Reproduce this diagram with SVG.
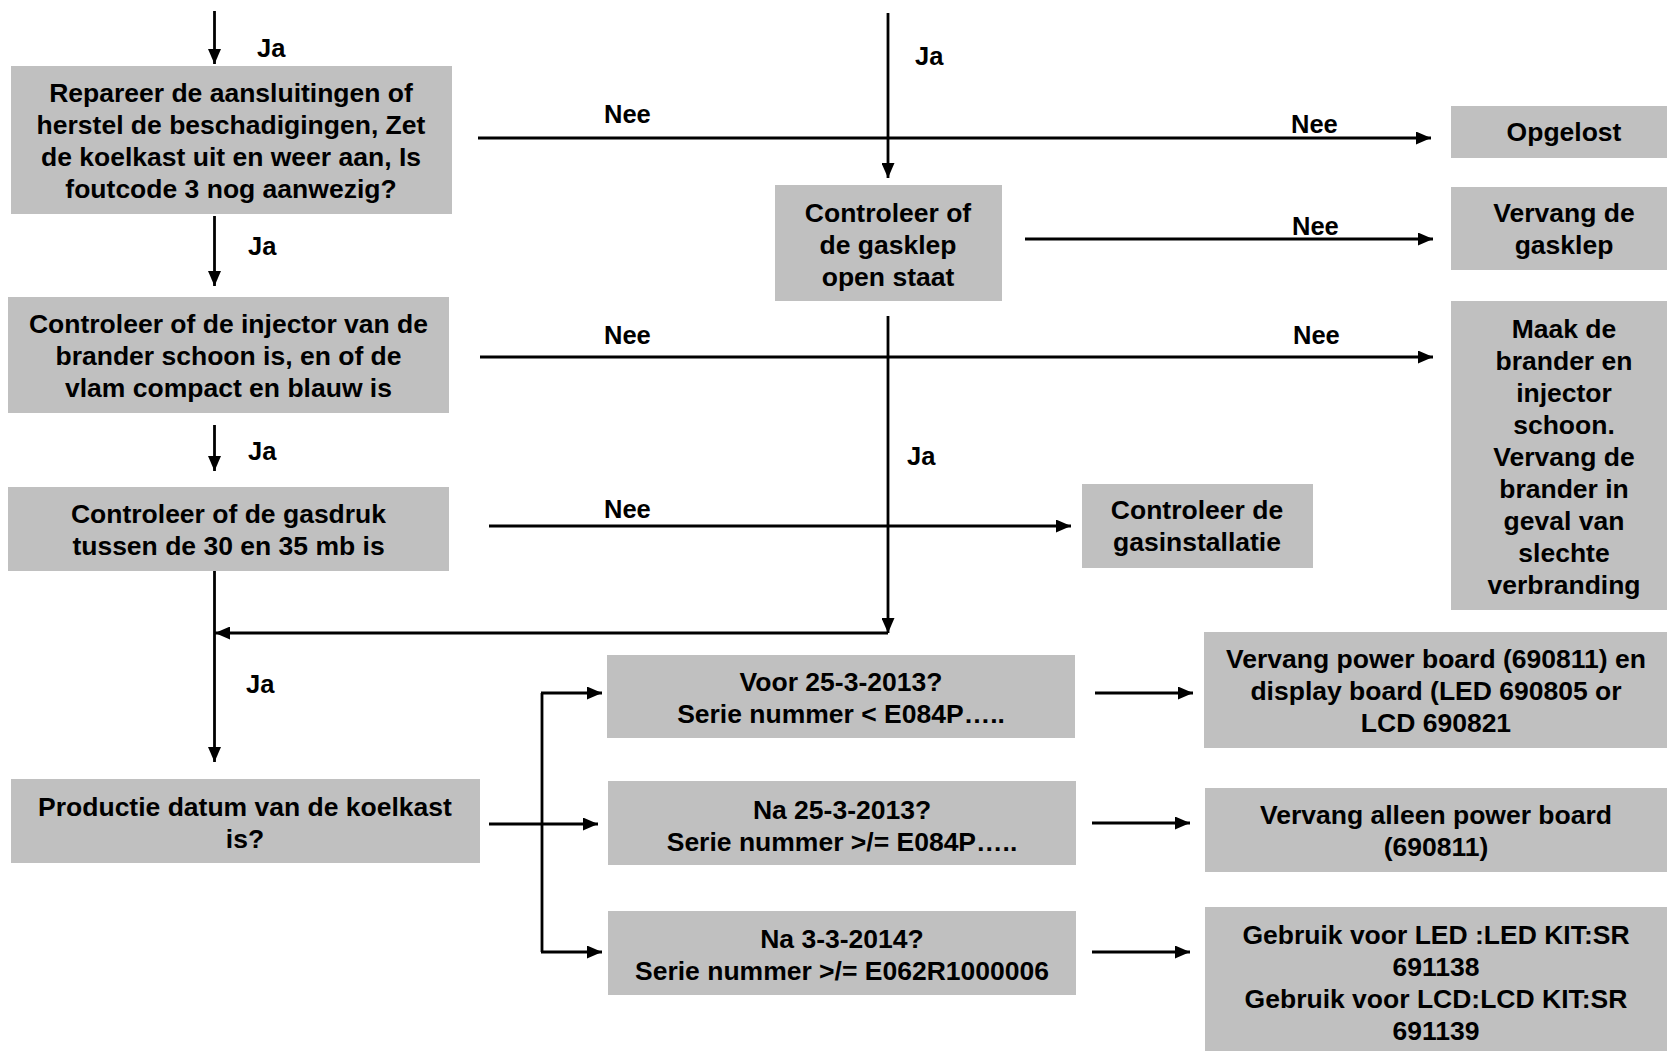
<svg xmlns="http://www.w3.org/2000/svg" width="1667" height="1051" viewBox="0 0 1667 1051">
<style>
  .box { fill: #c0c0c0; }
  .t { font-family: "Liberation Sans", Arial, sans-serif; font-weight: bold; font-size: 26.5px; fill: #000; text-anchor: middle; }
  .lbl { font-family: "Liberation Sans", Arial, sans-serif; font-weight: bold; font-size: 25.5px; fill: #000; }
  .ln { stroke: #000; stroke-width: 2.8; fill: none; }
  .ar { stroke: #000; stroke-width: 2.8; fill: none; marker-end: url(#arr); }
</style>
<defs>
  <marker id="arr" viewBox="0 0 15 13" refX="15" refY="6.5" markerWidth="15" markerHeight="13" markerUnits="userSpaceOnUse" orient="auto">
    <path d="M0,0 L15,6.5 L0,13 z" fill="#000"/>
  </marker>
</defs>
<rect width="1667" height="1051" fill="#fff"/>

<g id="connectors">
  <line class="ar" x1="214.5" y1="11" x2="214.5" y2="64"/>
  <line class="ar" x1="888" y1="13" x2="888" y2="178"/>
  <line class="ar" x1="478" y1="138" x2="1431" y2="138"/>
  <line class="ar" x1="1025" y1="239" x2="1433" y2="239"/>
  <line class="ar" x1="214.5" y1="216" x2="214.5" y2="286"/>
  <line class="ar" x1="480" y1="357" x2="1433" y2="357"/>
  <line class="ar" x1="888" y1="316" x2="888" y2="633"/>
  <line class="ar" x1="214.5" y1="425" x2="214.5" y2="471"/>
  <line class="ar" x1="489" y1="526" x2="1071" y2="526"/>
  <line class="ar" x1="214.5" y1="571" x2="214.5" y2="762"/>
  <line class="ar" x1="888" y1="633" x2="215" y2="633"/>
  <line class="ar" x1="489" y1="824" x2="598" y2="824"/>
  <line class="ln" x1="542" y1="693" x2="542" y2="952"/>
  <line class="ar" x1="541" y1="693" x2="602" y2="693"/>
  <line class="ar" x1="541" y1="952" x2="602" y2="952"/>
  <line class="ar" x1="1095" y1="693" x2="1193" y2="693"/>
  <line class="ar" x1="1092" y1="823" x2="1190" y2="823"/>
  <line class="ar" x1="1092" y1="952" x2="1190" y2="952"/>

  <text class="lbl" x="257" y="57">Ja</text>
  <text class="lbl" x="915" y="65">Ja</text>
  <text class="lbl" x="604" y="123">Nee</text>
  <text class="lbl" x="1291" y="133">Nee</text>
  <text class="lbl" x="1292" y="235">Nee</text>
  <text class="lbl" x="248" y="255">Ja</text>
  <text class="lbl" x="604" y="344">Nee</text>
  <text class="lbl" x="1293" y="344">Nee</text>
  <text class="lbl" x="907" y="465">Ja</text>
  <text class="lbl" x="248" y="460">Ja</text>
  <text class="lbl" x="604" y="518">Nee</text>
  <text class="lbl" x="246" y="693">Ja</text>
</g>

<g id="n-repareer">
  <rect class="box" x="11" y="66" width="441" height="148"/>
  <text class="t" x="231" y="102">Repareer de aansluitingen of</text>
  <text class="t" x="231" y="134">herstel de beschadigingen, Zet</text>
  <text class="t" x="231" y="166">de koelkast uit en weer aan, Is</text>
  <text class="t" x="231" y="198">foutcode 3 nog aanwezig?</text>
</g>

<g id="n-opgelost">
  <rect class="box" x="1451" y="106" width="230" height="52"/>
  <text class="t" x="1564" y="141">Opgelost</text>
</g>

<g id="n-gasklep">
  <rect class="box" x="775" y="185" width="227" height="116"/>
  <text class="t" x="888" y="222">Controleer of</text>
  <text class="t" x="888" y="254">de gasklep</text>
  <text class="t" x="888" y="286">open staat</text>
</g>

<g id="n-vervang-gasklep">
  <rect class="box" x="1451" y="187" width="230" height="83"/>
  <text class="t" x="1564" y="222">Vervang de</text>
  <text class="t" x="1564" y="254">gasklep</text>
</g>

<g id="n-injector">
  <rect class="box" x="8" y="297" width="441" height="116"/>
  <text class="t" x="228.5" y="333">Controleer of de injector van de</text>
  <text class="t" x="228.5" y="365">brander schoon is, en of de</text>
  <text class="t" x="228.5" y="397">vlam compact en blauw is</text>
</g>

<g id="n-maak">
  <rect class="box" x="1451" y="301" width="230" height="309"/>
  <text class="t" x="1564" y="338">Maak de</text>
  <text class="t" x="1564" y="370">brander en</text>
  <text class="t" x="1564" y="402">injector</text>
  <text class="t" x="1564" y="434">schoon.</text>
  <text class="t" x="1564" y="466">Vervang de</text>
  <text class="t" x="1564" y="498">brander in</text>
  <text class="t" x="1564" y="530">geval van</text>
  <text class="t" x="1564" y="562">slechte</text>
  <text class="t" x="1564" y="594">verbranding</text>
</g>

<g id="n-gasdruk">
  <rect class="box" x="8" y="487" width="441" height="84"/>
  <text class="t" x="228.5" y="523">Controleer of de gasdruk</text>
  <text class="t" x="228.5" y="555">tussen de 30 en 35 mb is</text>
</g>

<g id="n-gasinstallatie">
  <rect class="box" x="1082" y="484" width="231" height="84"/>
  <text class="t" x="1197" y="519">Controleer de</text>
  <text class="t" x="1197" y="551">gasinstallatie</text>
</g>

<g id="n-productie">
  <rect class="box" x="11" y="779" width="469" height="84"/>
  <text class="t" x="245" y="816">Productie datum van de koelkast</text>
  <text class="t" x="245" y="848">is?</text>
</g>

<g id="n-voor">
  <rect class="box" x="607" y="655" width="468" height="83"/>
  <text class="t" x="841" y="691">Voor 25-3-2013?</text>
  <text class="t" x="841" y="723">Serie nummer &lt; E084P…..</text>
</g>

<g id="n-na2013">
  <rect class="box" x="608" y="781" width="468" height="84"/>
  <text class="t" x="842" y="819">Na 25-3-2013?</text>
  <text class="t" x="842" y="851">Serie nummer &gt;/= E084P…..</text>
</g>

<g id="n-na2014">
  <rect class="box" x="608" y="911" width="468" height="84"/>
  <text class="t" x="842" y="948">Na 3-3-2014?</text>
  <text class="t" x="842" y="980">Serie nummer &gt;/= E062R1000006</text>
</g>

<g id="n-powerdisplay">
  <rect class="box" x="1204" y="632" width="463" height="116"/>
  <text class="t" x="1436" y="668">Vervang power board (690811) en</text>
  <text class="t" x="1436" y="700">display board (LED 690805 or</text>
  <text class="t" x="1436" y="732">LCD 690821</text>
</g>

<g id="n-alleen">
  <rect class="box" x="1205" y="788" width="462" height="84"/>
  <text class="t" x="1436" y="824">Vervang alleen power board</text>
  <text class="t" x="1436" y="856">(690811)</text>
</g>

<g id="n-kit">
  <rect class="box" x="1205" y="907" width="462" height="144"/>
  <text class="t" x="1436" y="944">Gebruik voor LED :LED KIT:SR</text>
  <text class="t" x="1436" y="976">691138</text>
  <text class="t" x="1436" y="1008">Gebruik voor LCD:LCD KIT:SR</text>
  <text class="t" x="1436" y="1040">691139</text>
</g>
</svg>
